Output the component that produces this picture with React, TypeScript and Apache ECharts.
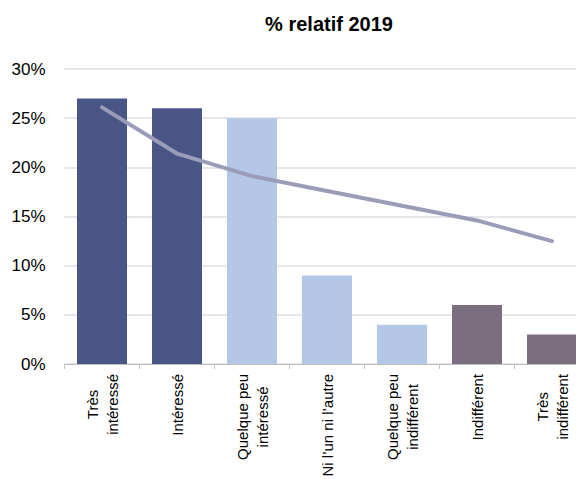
import React, { useEffect, useRef } from "react";
import * as echarts from "echarts";

const title = "% relatif 2019";
const categories = [
  "Très\nintéressé",
  "Intéressé",
  "Quelque peu\nintéressé",
  "Ni l’un ni l’autre",
  "Quelque peu\nindifférent",
  "Indifférent",
  "Très\nindifférent",
];
const barValues = [27, 26, 25, 9, 4, 6, 3];
const lineValues = [26.1, 21.4, 19.1, 17.6, 16.1, 14.6, 12.5];
const barGroups = ["strong", "strong", "light", "light", "light", "indiff", "indiff"];
const yTicks = { min: 0, max: 30, interval: 5 };

const groupColors: Record<string, string> = {
  strong: "#4A5587",
  light: "#B4C7E7",
  indiff: "#7B6E7E",
};

const FONT = "'Liberation Sans', Arial, sans-serif";

export default function App() {
  const ref = useRef<HTMLDivElement>(null);
  useEffect(() => {
    document.body.style.margin = "0";
    if (!ref.current) return;
    const chart = echarts.init(ref.current, null, { renderer: "svg" });
    chart.setOption({
      animation: false,
      backgroundColor: "#ffffff",
      title: {
        text: title,
        left: 324,
        top: 9,
        textAlign: "center",
        textStyle: { fontFamily: FONT, fontSize: 20, fontWeight: "bold", color: "#000000" },
      },
      grid: {
        left: 64.5,
        top: 69,
        width: 525,
        height: 295,
        containLabel: false,
        outerBoundsMode: "none",
      },
      xAxis: {
        type: "category",
        data: categories,
        axisLine: { lineStyle: { color: "#BFBFBF", width: 1 } },
        axisTick: { show: true, length: 5, lineStyle: { color: "#BFBFBF" } },
        axisLabel: {
          interval: 0,
          rotate: 90,
          margin: 10,
          hideOverlap: false,
          formatter: (v: string) => v.split("\n").map((l) => `{c|${l}}`).join("\n"),
          rich: {
            c: { align: "center", fontFamily: FONT, fontSize: 15, lineHeight: 20, color: "#000000" },
          },
        },
      },
      yAxis: {
        type: "value",
        min: yTicks.min,
        max: yTicks.max,
        interval: yTicks.interval,
        axisLine: { show: false },
        axisTick: { show: false },
        splitLine: { lineStyle: { color: "#DCDCE4", width: 1.5 } },
        axisLabel: {
          formatter: "{value}%",
          margin: 19,
          fontFamily: FONT,
          fontSize: 17,
          color: "#000000",
        },
      },
      series: [
        {
          type: "bar",
          barWidth: 50,
          data: barValues.map((v, i) => ({ value: v, itemStyle: { color: groupColors[barGroups[i]] } })),
        },
        {
          type: "line",
          data: lineValues,
          symbol: "none",
          z: 5,
          lineStyle: { color: "#9A9CB8", width: 4, cap: "round", join: "round" },
        },
      ],
    });
    return () => chart.dispose();
  }, []);
  return <div ref={ref} style={{ width: 576, height: 479 }} />;
}
